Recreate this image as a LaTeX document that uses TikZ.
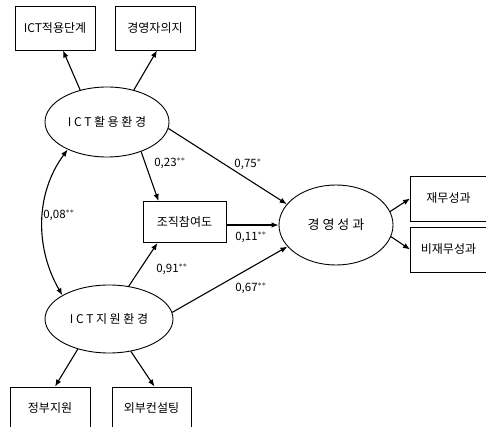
\documentclass[tikz,border=0pt]{standalone}
\usepackage{fontspec}
\setmainfont{Noto Sans CJK KR}
\usetikzlibrary{shapes.geometric,arrows.meta}
\newcommand{\gapk}{\kern2.6pt}
\tikzset{
  every node/.style={font=\fontsize{12}{14}\selectfont, inner sep=0pt},
  boxnode/.style={draw, line width=0.9pt, rectangle, anchor=center},
  ellnode/.style={draw, line width=0.9pt, ellipse},
  arr/.style={line width=1.1pt, -{Latex[length=7pt,width=5.5pt]}},
  darr/.style={line width=1.1pt, {Latex[length=7pt,width=5.5pt]}-{Latex[length=7pt,width=5.5pt]}},
  coef/.style={font=\fontsize{11.5}{13}\selectfont}
}
\begin{document}
\begin{tikzpicture}[x=1pt,y=-1pt]
\useasboundingbox (0,0) rectangle (486,427);
\clip (0,0) rectangle (486,427);
% indicator boxes
\node[boxnode, minimum width=80pt, minimum height=44pt] (a1) at (55,28) {ICT적용단계};
\node[boxnode, minimum width=80pt, minimum height=44pt] (a2) at (155,28) {경영자의지};
% latent ellipses
\node[ellnode, minimum width=124pt, minimum height=70pt] (e1) at (107,122) {I\gapk C\gapk T\gapk 활\gapk 용\gapk 환\gapk 경};
\node[ellnode, minimum width=128pt, minimum height=68pt] (e2) at (109,319) {I\gapk C\gapk T\gapk 지\gapk 원\gapk 환\gapk 경};
\node[ellnode, minimum width=114pt, minimum height=80pt, font=\fontsize{13}{15}\selectfont] (e3) at (336,225) {경 영 성 과};
% mediator
\node[boxnode, minimum width=83pt, minimum height=41pt] (m) at (184.5,222) {조직참여도};
% outcome boxes
\node[boxnode, minimum width=76pt, minimum height=45pt] (r1) at (448.5,198.5) {재무성과};
\node[boxnode, minimum width=76pt, minimum height=45pt] (r2) at (448.5,249.5) {비재무성과};
% bottom boxes
\node[boxnode, minimum width=80pt, minimum height=42pt] (b1) at (50,408) {정부지원};
\node[boxnode, minimum width=79pt, minimum height=42pt] (b2) at (151.5,408) {외부컨설팅};
% arrows to indicators
\draw[arr] (e1.130) -- ([xshift=8pt]a1.south);
\draw[arr] (e1.50) -- ([xshift=2pt]a2.south);
\draw[arr] (e2.224) -- ([xshift=5pt]b1.north);
\draw[arr] (e2.304) -- ([xshift=3pt]b2.north);
% structural paths
\draw[arr] (e1.-41) -- ([xshift=-26pt]m.north);
\draw[arr] (e2.59) -- ([xshift=-27pt]m.south);
\draw[arr] (e1.-6) -- (e3.157);
\draw[arr] (e2.6) -- (e3.204);
\draw[arr] (m.east |- e3.west) -- (e3.west);
\draw[arr] (e3.14) -- (r1.west);
\draw[arr] (e3.-12) -- (r2.west);
% covariance
\draw[darr] (e1.215) .. controls (34,195) and (36,250) .. (e2.153);
% coefficients
\node[coef] (c1) at (170,163) {0,23$^{\ast\ast}$};
\node[coef] (c2) at (248,164) {0,75$^{\ast}$};
\node[coef] (c3) at (251,237) {0,11$^{\ast\ast}$};
\node[coef] (c4) at (172,269) {0,91$^{\ast\ast}$};
\node[coef] (c5) at (251,288) {0,67$^{\ast\ast}$};
\node[coef] (c6) at (59,215) {0,08$^{\ast\ast}$};
\end{tikzpicture}
\end{document}
